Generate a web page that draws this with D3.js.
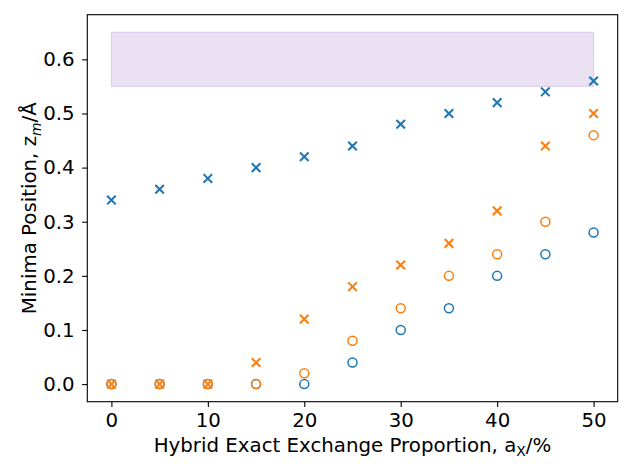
<!DOCTYPE html>
<html><head><meta charset="utf-8">
<script src="https://cdn.jsdelivr.net/npm/d3@7"></script>
<style>body{margin:0;background:#fff}svg{display:block}text{font-family:"DejaVu Sans",sans-serif}</style>
</head><body>
<script>
const xVals = [0,5,10,15,20,25,30,35,40,45,50];
const blueCross = [0.34,0.36,0.38,0.40,0.42,0.44,0.48,0.50,0.52,0.54,0.56];
const blueCircle = [0,0,0,0,0,0.04,0.10,0.14,0.20,0.24,0.28];
const orangeCross = [0,0,0,0.04,0.12,0.18,0.22,0.26,0.32,0.44,0.50];
const orangeCircle = [0,0,0,0,0.02,0.08,0.14,0.20,0.24,0.30,0.46];
const band = {x0:0, x1:50, y0:0.55, y1:0.65};
const xTicks = [0,10,20,30,40,50];
const yTicks = [0.0,0.1,0.2,0.3,0.4,0.5,0.6];

const W=633,H=474;
const L=87.3,R=617.7,T=14.7,B=401.7;
const FS=19.8, FSS=13.9;
const svg=d3.select("body").append("svg").attr("width",W).attr("height",H);
const x=d3.scaleLinear().domain([-2.5,52.5]).range([L,R]);
const y=d3.scaleLinear().domain([-0.0325,0.6825]).range([B,T]);

svg.append("rect").attr("x",x(band.x0)).attr("y",y(band.y1))
  .attr("width",x(band.x1)-x(band.x0)).attr("height",y(band.y0)-y(band.y1))
  .attr("fill","#9467bd").attr("fill-opacity",0.2).attr("stroke","#9467bd").attr("stroke-opacity",0.25);

const blue="#1f77b4",orange="#ff7f0e";
function crosses(vals,color){
  const s=4.3;
  const g=svg.append("g");
  xVals.forEach((xv,i)=>{
    const cx=x(xv),cy=y(vals[i]);
    g.append("path").attr("d",`M${cx-s},${cy-s}L${cx+s},${cy+s}M${cx-s},${cy+s}L${cx+s},${cy-s}`)
      .attr("stroke",color).attr("stroke-width",2.1).attr("fill","none");
  });
}
function circles(vals,color){
  svg.append("g").selectAll("circle").data(xVals).join("circle")
    .attr("cx",d=>x(d)).attr("cy",(d,i)=>y(vals[i])).attr("r",4.5)
    .attr("fill","none").attr("stroke",color).attr("stroke-width",1.5);
}
crosses(blueCross,blue);
circles(blueCircle,blue);
crosses(orangeCross,orange);
circles(orangeCircle,orange);

const xa=svg.append("g").attr("transform",`translate(0,${B})`)
  .call(d3.axisBottom(x).tickValues(xTicks).tickFormat(d3.format("d")).tickSize(5.2).tickPadding(6.3));
const ya=svg.append("g").attr("transform",`translate(${L},0)`)
  .call(d3.axisLeft(y).tickValues(yTicks).tickFormat(d3.format(".1f")).tickSize(5.2).tickPadding(7.5));
[xa,ya].forEach(a=>{a.select(".domain").remove();a.selectAll("line").attr("stroke","#000").attr("stroke-width",1.1);
  a.selectAll("text").attr("font-size",FS).attr("font-family","DejaVu Sans").attr("fill","#000");});
svg.append("rect").attr("x",L).attr("y",T).attr("width",R-L).attr("height",B-T)
  .attr("fill","none").attr("stroke","#000").attr("stroke-width",1.1);

const xl=svg.append("text").attr("x",(L+R)/2).attr("y",451.5).attr("text-anchor","middle").attr("font-size",FS);
xl.append("tspan").text("Hybrid Exact Exchange Proportion, a");
xl.append("tspan").attr("font-size",FSS).attr("dy",4.5).text("X");
xl.append("tspan").attr("dy",-4.5).text("/%");

const yl=svg.append("text").attr("transform",`translate(36,${(T+B)/2}) rotate(-90)`).attr("text-anchor","middle").attr("font-size",FS);
yl.append("tspan").text("Minima Position, z");
yl.append("tspan").attr("font-size",FSS).attr("font-style","italic").attr("dy",4.5).text("m");
yl.append("tspan").attr("dy",-4.5).text("/Å");
</script>
</body></html>
